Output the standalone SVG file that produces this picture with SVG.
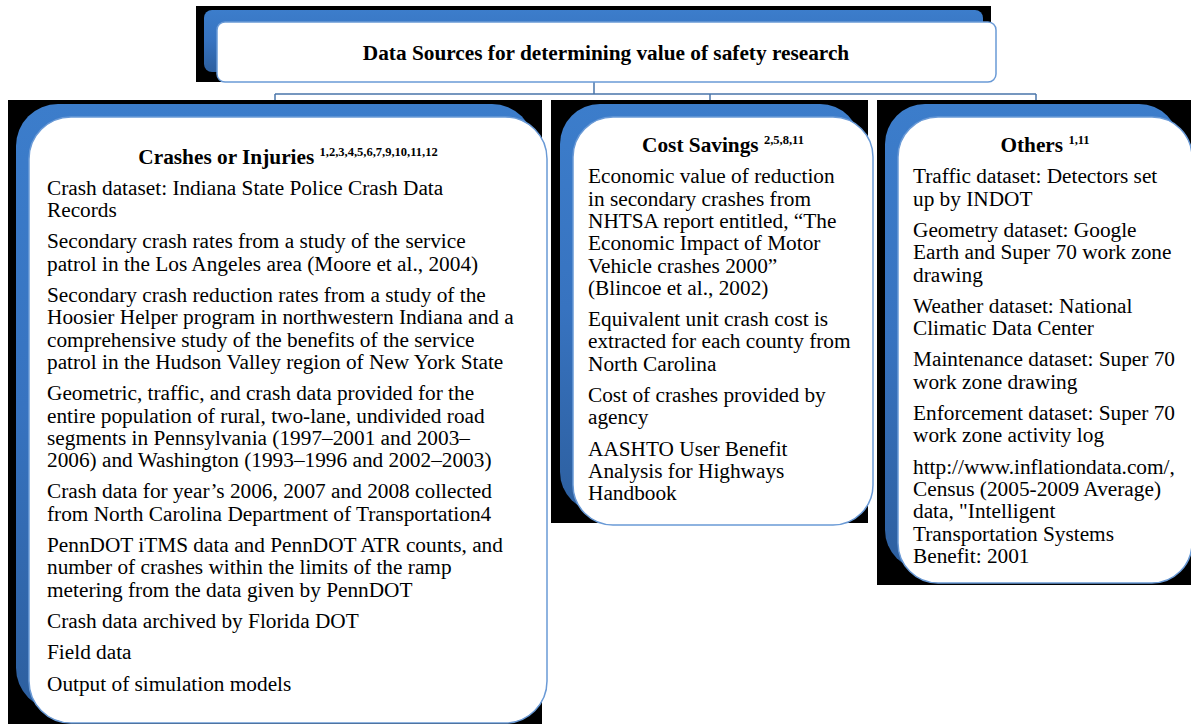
<svg xmlns="http://www.w3.org/2000/svg" width="1191" height="724" viewBox="0 0 1191 724">
<defs>
<linearGradient id="blueG" x1="0" y1="0" x2="0" y2="1">
<stop offset="0" stop-color="#3c7dcb"/>
<stop offset="0.5" stop-color="#3773c0"/>
<stop offset="1" stop-color="#2d5f9f"/>
</linearGradient>
<style>
.bg{fill:#000000}
.sh{fill:url(#blueG)}
.box{fill:#ffffff;stroke:#6a9ad6;stroke-width:1.5}
.con{fill:none;stroke:#4a75aa;stroke-width:1.5}
.ttl{font-family:"Liberation Serif","Times New Roman",serif;font-weight:bold;font-size:21.3px;fill:#000;text-anchor:middle}
.sup{font-size:12.5px}
.txt{font-family:"Liberation Serif","Times New Roman",serif;font-size:21.3px;fill:#000}
</style>
</defs>
<rect width="1191" height="724" fill="#ffffff"/>

<g id="connectors">
<path class="con" d="M594 82 V94 M275 94 H1036 M275 94 V100 M710 94 V100 M1036 94 V100"/>
</g>

<g id="root">
<rect class="bg" x="196" y="6" width="795" height="76"/>
<rect class="sh" x="204" y="10" width="779" height="62" rx="8"/>
<rect class="box" x="217" y="22" width="779" height="60" rx="8"/>
<text class="ttl" x="606" y="60">Data Sources for determining value of safety research</text>
</g>

<g id="crashes">
<rect class="bg" x="8" y="100" width="534" height="624"/>
<rect class="sh" x="16" y="104" width="518" height="606" rx="42"/>
<rect class="box" x="29" y="117" width="518" height="606" rx="42"/>
<text class="ttl" x="288" y="163.5">Crashes or Injuries <tspan class="sup" dy="-8">1,2,3,4,5,6,7,9,10,11,12</tspan></text>
<text class="txt">
<tspan x="47" y="194.8">Crash dataset: Indiana State Police Crash Data</tspan>
<tspan x="47" y="217.1">Records</tspan>
<tspan x="47" y="248.4">Secondary crash rates from a study of the service</tspan>
<tspan x="47" y="270.7">patrol in the Los Angeles area (Moore et al., 2004)</tspan>
<tspan x="47" y="302">Secondary crash reduction rates from a study of the</tspan>
<tspan x="47" y="324.3">Hoosier Helper program in northwestern Indiana and a</tspan>
<tspan x="47" y="346.6">comprehensive study of the benefits of the service</tspan>
<tspan x="47" y="368.9">patrol in the Hudson Valley region of New York State</tspan>
<tspan x="47" y="400.2">Geometric, traffic, and crash data provided for the</tspan>
<tspan x="47" y="422.5">entire population of rural, two-lane, undivided road</tspan>
<tspan x="47" y="444.8">segments in Pennsylvania (1997–2001 and 2003–</tspan>
<tspan x="47" y="467.1">2006) and Washington (1993–1996 and 2002–2003)</tspan>
<tspan x="47" y="498.4">Crash data for year’s 2006, 2007 and 2008 collected</tspan>
<tspan x="47" y="520.7">from North Carolina Department of Transportation4</tspan>
<tspan x="47" y="552">PennDOT iTMS data and PennDOT ATR counts, and</tspan>
<tspan x="47" y="574.3">number of crashes within the limits of the ramp</tspan>
<tspan x="47" y="596.6">metering from the data given by PennDOT</tspan>
<tspan x="47" y="627.9">Crash data archived by Florida DOT</tspan>
<tspan x="47" y="659.2">Field data</tspan>
<tspan x="47" y="690.5">Output of simulation models</tspan>
</text>
</g>

<g id="cost">
<rect class="bg" x="551" y="100" width="317" height="423"/>
<rect class="sh" x="560" y="104" width="300" height="408" rx="40"/>
<rect class="box" x="573" y="117" width="300" height="408" rx="40"/>
<text class="ttl" x="723" y="152">Cost Savings <tspan class="sup" dy="-8">2,5,8,11</tspan></text>
<text class="txt">
<tspan x="588" y="183.3">Economic value of reduction</tspan>
<tspan x="588" y="205.6">in secondary crashes from</tspan>
<tspan x="588" y="227.9">NHTSA report entitled, “The</tspan>
<tspan x="588" y="250.2">Economic Impact of Motor</tspan>
<tspan x="588" y="272.5">Vehicle crashes 2000”</tspan>
<tspan x="588" y="294.8">(Blincoe et al., 2002)</tspan>
<tspan x="588" y="326.1">Equivalent unit crash cost is</tspan>
<tspan x="588" y="348.4">extracted for each county from</tspan>
<tspan x="588" y="370.7">North Carolina</tspan>
<tspan x="588" y="402">Cost of crashes provided by</tspan>
<tspan x="588" y="424.3">agency</tspan>
<tspan x="588" y="455.6">AASHTO User Benefit</tspan>
<tspan x="588" y="477.9">Analysis for Highways</tspan>
<tspan x="588" y="500.2">Handbook</tspan>
</text>
</g>

<g id="others">
<rect class="bg" x="877" y="100" width="314" height="485"/>
<rect class="sh" x="885" y="104" width="294" height="466" rx="40"/>
<rect class="box" x="898" y="117" width="294" height="466" rx="40"/>
<text class="ttl" x="1045" y="152">Others <tspan class="sup" dy="-8">1,11</tspan></text>
<text class="txt">
<tspan x="913" y="183.3">Traffic dataset: Detectors set</tspan>
<tspan x="913" y="205.6">up by INDOT</tspan>
<tspan x="913" y="236.9">Geometry dataset: Google</tspan>
<tspan x="913" y="259.2">Earth and Super 70 work zone</tspan>
<tspan x="913" y="281.5">drawing</tspan>
<tspan x="913" y="312.8">Weather dataset: National</tspan>
<tspan x="913" y="335.1">Climatic Data Center</tspan>
<tspan x="913" y="366.4">Maintenance dataset: Super 70</tspan>
<tspan x="913" y="388.7">work zone drawing</tspan>
<tspan x="913" y="420">Enforcement dataset: Super 70</tspan>
<tspan x="913" y="442.3">work zone activity log</tspan>
<tspan x="913" y="473.6">http://www.inflationdata.com/,</tspan>
<tspan x="913" y="495.9">Census (2005-2009 Average)</tspan>
<tspan x="913" y="518.2">data, "Intelligent</tspan>
<tspan x="913" y="540.5">Transportation Systems</tspan>
<tspan x="913" y="562.8">Benefit: 2001</tspan>
</text>
</g>
</svg>
